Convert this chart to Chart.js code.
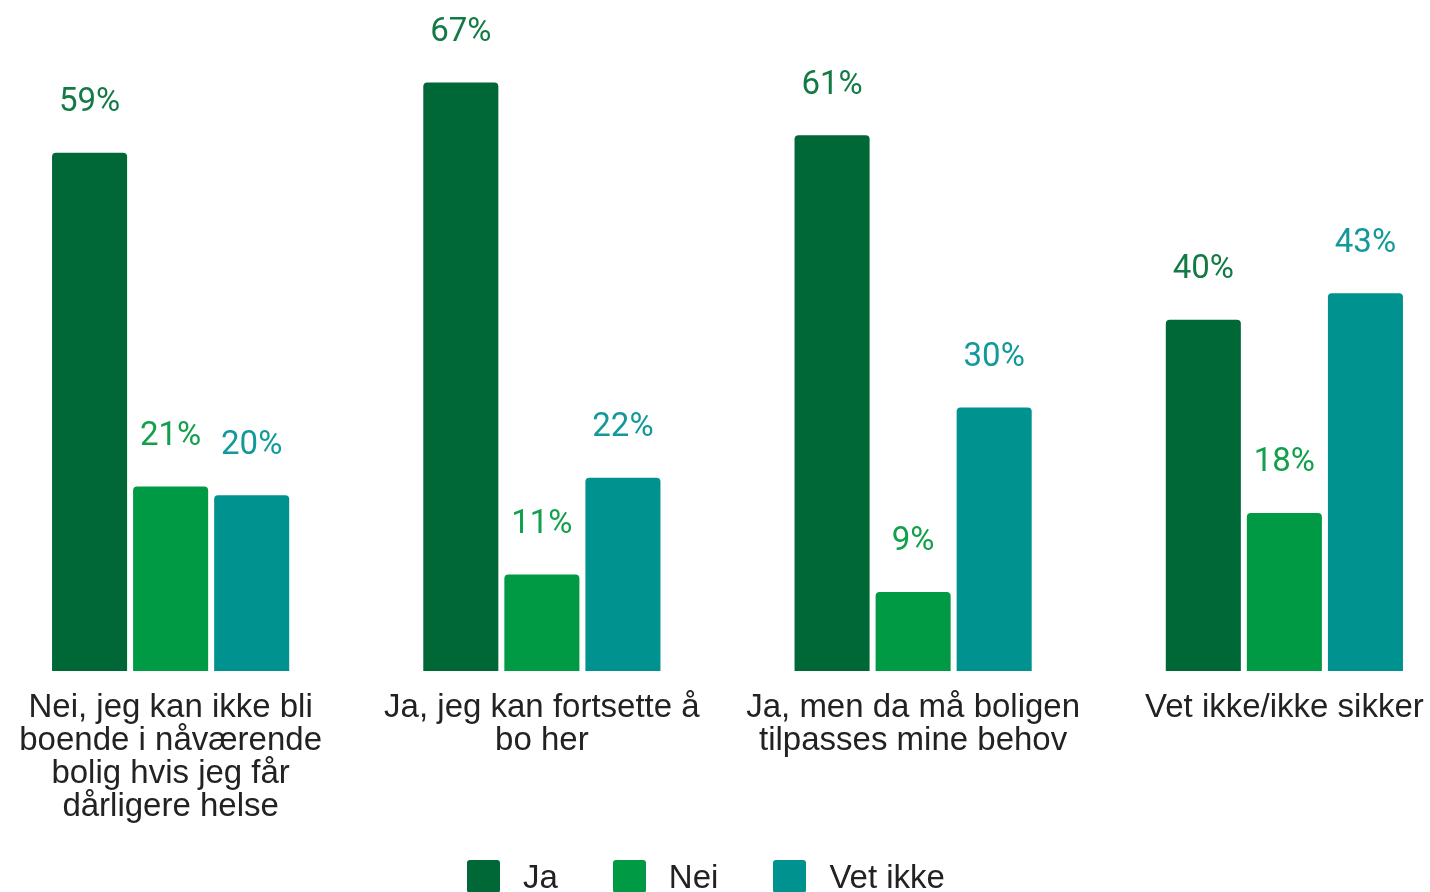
<!DOCTYPE html>
<html lang="no">
<head>
  <meta charset="UTF-8">
  <title>Bolig og helse</title>
  <script src="https://cdn.jsdelivr.net/npm/chart.js"></script>
  <style>
    html, body { margin: 0; padding: 0; background: #fff; overflow: hidden; }
    body { width: 1430px; height: 892px; position: relative; }
    .wrap { position: absolute; left: -15px; top: 0; width: 1485px; height: 892px; }
    .legend { position: absolute; top: 860px; left: 467px; display: flex; align-items: center;
      font-family: "Liberation Sans", Arial, sans-serif; font-size: 33px; color: #222; }
    .legend span.box { display: inline-block; width: 33px; height: 33px; border-radius: 3px; margin-right: 23px; }
    .legend .item { display: flex; align-items: center; margin-right: 55px; line-height: 33px; }
  </style>
</head>
<body>
  <div class="wrap"><canvas id="chart" width="1485" height="892"></canvas></div>
  <div class="legend" id="legend"></div>

  <script>
    // data
    const kategorier = [
      ['Nei, jeg kan ikke bli', 'boende i nåværende', 'bolig hvis jeg får', 'dårligere helse'],
      ['Ja, jeg kan fortsette å', 'bo her'],
      ['Ja, men da må boligen', 'tilpasses mine behov'],
      ['Vet ikke/ikke sikker']
    ];
    const serier = ['Ja', 'Nei', 'Vet ikke'];
    const ja = [59, 67, 61, 40];
    const nei = [21, 11, 9, 18];
    const vetIkke = [20, 22, 30, 43];

    const farger = ['#006837', '#009a44', '#00928f'];
    const tekstFarger = ['#137a46', '#12a04c', '#13999a'];

    // etiketter over søylene
    const verdiEtiketter = {
      id: 'verdiEtiketter',
      afterDatasetsDraw(chart) {
        const ctx = chart.ctx;
        ctx.save();
        ctx.font = '33px Roboto';
        ctx.textAlign = 'center';
        ctx.textBaseline = 'middle';
        chart.data.datasets.forEach((ds, i) => {
          const meta = chart.getDatasetMeta(i);
          meta.data.forEach((bar, j) => {
            ctx.fillStyle = tekstFarger[i];
            ctx.fillText(ds.data[j] + '%', bar.x, bar.y - 50);
          });
        });
        ctx.restore();
      }
    };

    new Chart(document.getElementById('chart'), {
      type: 'bar',
      data: {
        labels: kategorier,
        datasets: [
          { label: serier[0], data: ja, backgroundColor: farger[0] },
          { label: serier[1], data: nei, backgroundColor: farger[1] },
          { label: serier[2], data: vetIkke, backgroundColor: farger[2] }
        ]
      },
      options: {
        responsive: false,
        animation: false,
        maintainAspectRatio: false,
        layout: { padding: 0 },
        datasets: {
          bar: { barPercentage: 0.926, categoryPercentage: 0.655, borderRadius: 4 }
        },
        plugins: {
          legend: { display: false },
          tooltip: { enabled: false }
        },
        scales: {
          y: { display: false, min: 0, max: 76.4 },
          x: {
            grid: { display: false, drawTicks: false },
            border: { display: false },
            ticks: {
              padding: 20,
              maxRotation: 0,
              autoSkip: false,
              color: '#222',
              font: { family: 'Liberation Sans', size: 33, lineHeight: 1.0 }
            },
            afterFit(scale) { scale.height = 221; }
          }
        }
      },
      plugins: [verdiEtiketter]
    });

    // legend
    const leg = document.getElementById('legend');
    serier.forEach((s, i) => {
      const it = document.createElement('div');
      it.className = 'item';
      it.innerHTML = '<span class="box" style="background:' + farger[i] + '"></span>' + s;
      leg.appendChild(it);
    });
  </script>
</body>
</html>
